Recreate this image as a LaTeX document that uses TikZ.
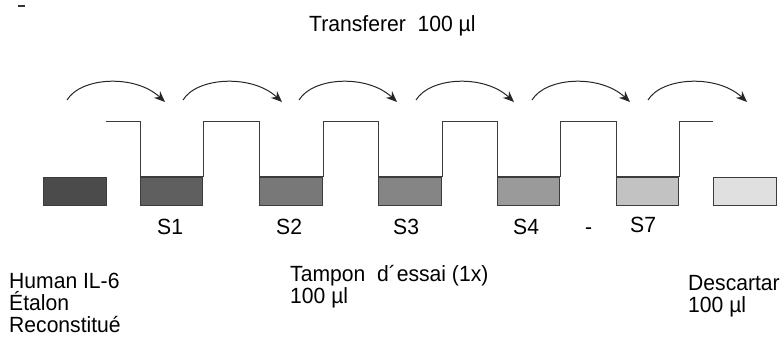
\documentclass[tikz,border=0pt]{standalone}
\usepackage{fontspec}
\setmainfont{Liberation Sans}[FakeStretch=0.96]
\usetikzlibrary{arrows.meta,calc}
\definecolor{edge}{HTML}{3C3C3C}
\definecolor{c0}{HTML}{4B4B4B}
\definecolor{c1}{HTML}{5F5F5F}
\definecolor{c2}{HTML}{787878}
\definecolor{c3}{HTML}{858585}
\definecolor{c4}{HTML}{9A9A9A}
\definecolor{c5}{HTML}{C2C2C2}
\definecolor{c6}{HTML}{E0E0E0}
\begin{document}
\begin{tikzpicture}[x=1pt,y=-1pt,
  well/.style={draw=edge,line width=1.1pt,minimum width=62pt,minimum height=28pt,inner sep=0pt,anchor=north west},
  lbl/.style={inner sep=0pt,anchor=base west,font=\fontsize{22}{23}\selectfont},
  tube/.style={draw=edge,line width=1pt},
  transfer/.style={draw=black!85,line width=1pt,-{Stealth[length=11pt,width=9pt]}}]
\useasboundingbox (0,0) rectangle (781,339);
\draw[line width=2pt,black!80] (18,6.5) -- (25,6.5);
% wells
\node[well,fill=c0,minimum width=63pt] (b0) at (43,177) {};
\node[well,fill=c1] (b1) at (140,177) {};
\node[well,fill=c2,minimum width=63pt] (b2) at (259,177) {};
\node[well,fill=c3,minimum width=63pt] (b3) at (378,177) {};
\node[well,fill=c4] (b4) at (497,177) {};
\node[well,fill=c5] (b5) at (616,177) {};
\node[well,fill=c6,minimum width=63pt] (b6) at (713,177) {};
% tube line
\coordinate (ls) at (106,122);
\coordinate (le) at (713,122);
\draw[tube] (ls) -- (b1.north west |- ls) -- (b1.north west) -- (b1.north east)
  -- (b1.north east |- ls) -- (b2.north west |- ls) -- (b2.north west) -- (b2.north east)
  -- (b2.north east |- ls) -- (b3.north west |- ls) -- (b3.north west) -- (b3.north east)
  -- (b3.north east |- ls) -- (b4.north west |- ls) -- (b4.north west) -- (b4.north east)
  -- (b4.north east |- ls) -- (b5.north west |- ls) -- (b5.north west) -- (b5.north east)
  -- (b5.north east |- ls) -- (le);
% arrows
\foreach \s/\e [count=\i] in {67/165,183/282,299/397,416/514,532/630,648/747}{
  \coordinate (a\i) at (\s,100);
  \coordinate (z\i) at (\e,102);
  \draw[transfer] (a\i) .. controls ($(a\i)+(14,-23)$) and ($(z\i)+(-30,-28)$) .. (z\i);
}
% labels
\node[lbl] (t) at (309,32) {Transferer\ \ 100 µl};
\node[lbl] (s1) at (157,234) {S1};
\node[lbl] (s2) at (276,234) {S2};
\node[lbl] (s3) at (393,234) {S3};
\node[lbl] (s4) at (513,234) {S4};
\node[lbl] (dash) at (585,234) {-};
\node[lbl] (s7) at (630,232) {S7};
\node[lbl] (h1) at (9,288) {Human IL-6};
\node[lbl] (h2) at (9,310) {Étalon};
\node[lbl] (h3) at (9,332) {Reconstitué};
\node[lbl] (tp1) at (290,281) {Tampon\ \ d´\kern1pt essai (1x)};
\node[lbl] (tp2) at (290,303) {100 µl};
\node[lbl] (d1) at (688,290) {Descartar};
\node[lbl] (d2) at (688,312) {100 µl};
\end{tikzpicture}
\end{document}
